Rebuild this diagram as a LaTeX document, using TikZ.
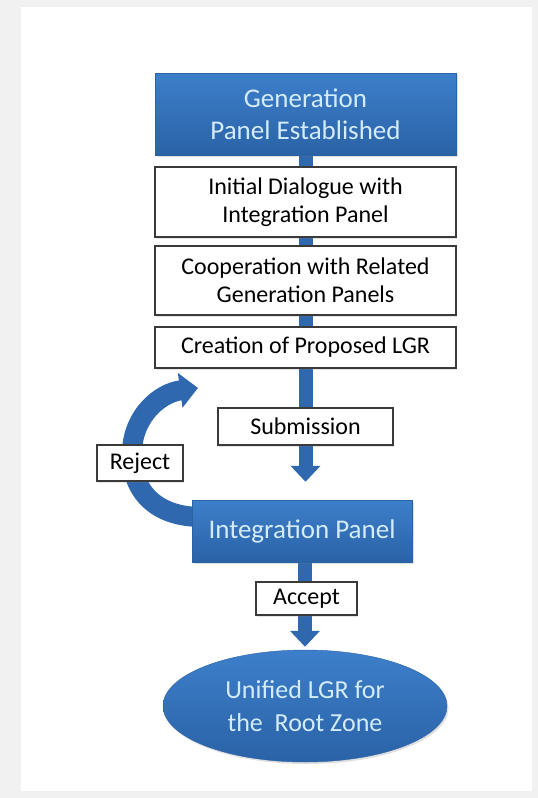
\documentclass[tikz,border=0pt]{standalone}
\usepackage{fontspec}
\setmainfont{Carlito}
\usetikzlibrary{arrows.meta,shadows,shapes.geometric}

\definecolor{panelTop}{HTML}{3D7FCB}
\definecolor{panelBot}{HTML}{2A62A6}
\definecolor{flowBlue}{HTML}{2F68AE}
\definecolor{paleText}{HTML}{D3EBFA}
\definecolor{boxLine}{HTML}{3A3A3A}
\definecolor{frameGray}{HTML}{F1F1F1}

\pgfdeclarelayer{bg}
\pgfdeclarelayer{lines}
\pgfsetlayers{bg,lines,main}

\begin{document}
\begin{tikzpicture}[x=1pt,y=-1pt,
  panel/.style={rectangle,top color=panelTop,bottom color=panelBot,draw=panelBot,
    text=paleText,align=center,font=\fontsize{27}{32}\selectfont,
    drop shadow={opacity=0.25,shadow xshift=1.5pt,shadow yshift=-2pt}},
  stepbox/.style={rectangle,draw=boxLine,line width=1.2pt,fill=white,align=center,
    font=\fontsize{24}{28}\selectfont,
    drop shadow={opacity=0.2,shadow xshift=1pt,shadow yshift=-1.5pt}},
  flow/.style={draw=flowBlue,line width=14pt},
  tip/.style={-{Triangle[width=29pt,length=16pt]}}]
\useasboundingbox (0,0) rectangle (538,798);
\begin{pgfonlayer}{bg}
\fill[frameGray] (0,0) rectangle (538,798);
\fill[white] (21,7) rectangle (532,791);
\end{pgfonlayer}

% generation side
\node[panel,minimum width=301pt,minimum height=82pt] (gen) at (305.5,114) {Generation\\Panel Established};
\node[stepbox,minimum width=301pt,minimum height=70pt] (dialog) at (305.5,202) {Initial Dialogue with\\Integration Panel};
\node[stepbox,minimum width=301pt,minimum height=69pt] (coop) at (305.5,280.5) {Cooperation with Related\\Generation Panels};
\node[stepbox,minimum width=301pt,minimum height=41pt] (create) at (305.5,347.5) {Creation of Proposed LGR};
\node[stepbox,minimum width=175pt,minimum height=37pt] (submit) at (305.5,426.5) {Submission};

% integration side
\node[panel,minimum width=220pt,minimum height=62pt] (integ) at (302,531) {Integration Panel};
\node[stepbox,minimum width=101pt,minimum height=33pt] (accept) at (306.5,598.5) {Accept};
\node[panel,ellipse,minimum width=284pt,minimum height=112pt,inner sep=0pt,font=\fontsize{26}{33}\selectfont] (unified) at (305,706) {Unified LGR for\\the\ \ Root Zone};

\coordinate (loopend) at (198,388);

\begin{pgfonlayer}{lines}
\draw[flow] (gen.south) -- (create.north);
\draw[flow,tip] (create.south) -- ([yshift=18pt]create.south |- integ.north);
\draw[flow,tip] (unified.north |- integ.south) -- ([yshift=3pt]unified.north);
\draw[flow,line width=20pt,-{Triangle[width=34pt,length=18pt]}]
  ([xshift=10pt,yshift=14pt]integ.west) .. controls (150,517) and (130,485) .. (132,450)
  .. controls (134,415) and (160,393) .. (loopend);
\end{pgfonlayer}

\node[stepbox,minimum width=86pt,minimum height=36pt] (reject) at (140,463) {Reject};
\end{tikzpicture}
\end{document}
